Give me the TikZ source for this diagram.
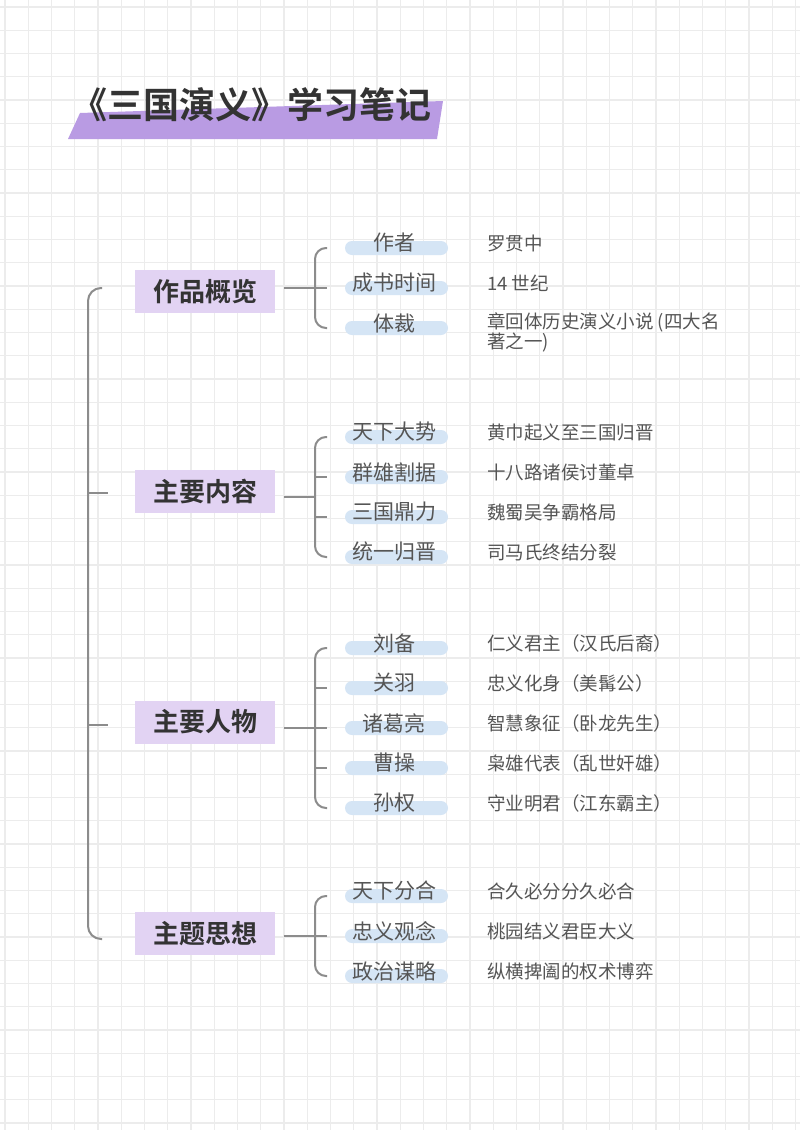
\documentclass[tikz,border=0pt]{standalone}
\usepackage{fontspec}
\setmainfont{Noto Sans CJK SC}[BoldFont={Noto Sans CJK SC Bold}]
\definecolor{gridc}{HTML}{ECECEC}
\definecolor{barpurple}{HTML}{B99BE3}
\definecolor{catfill}{HTML}{E2D3F3}
\definecolor{pillblue}{HTML}{D5E5F5}
\definecolor{linec}{HTML}{8C8C8C}
\definecolor{titlec}{HTML}{333333}
\definecolor{textc}{HTML}{555555}
\newcommand\mysub[4]{%
  \node[pill] (#1) at (396.5,#2) {};
  \node[subtext] (#1l) at (394,#2-5) {#3};
  \node[detail] (#1d) at (487,#2-5) {#4};
}
\begin{document}
\begin{tikzpicture}[x=1pt,y=-1pt,
  gridline/.style={draw=gridc,line width=1.3pt},
  conn/.style={draw=linec,line width=2pt},
  cat/.style={fill=catfill,minimum width=140pt,minimum height=43pt,inner sep=0pt,
    text=titlec,font=\bfseries\fontsize{26}{30}\selectfont},
  pill/.style={fill=pillblue,rounded corners=7pt,minimum width=103pt,minimum height=14pt,inner sep=0pt},
  subtext/.style={inner sep=0pt,text=textc,font=\fontsize{21}{25}\selectfont},
  detail/.style={inner sep=0pt,anchor=west,text=textc,font=\fontsize{18.5}{20}\selectfont},
  titletext/.style={inner sep=0pt,text=titlec,font=\bfseries\fontsize{36}{40}\selectfont}
]
\useasboundingbox (0,0) rectangle (800,1130);
\fill[white] (0,0) rectangle (800,1130);
% grid
\foreach \i in {0,...,34} \draw[gridline] (5+23.25*\i,0) -- (5+23.25*\i,1130);
\foreach \j in {0,...,48} \draw[gridline] (0,7+23.25*\j) -- (800,7+23.25*\j);

% title
\fill[barpurple] (68,139) -- (80,113) -- (443,101) -- (437,139) -- cycle;
\node[titletext] (title) at (251,105) {《三国演义》学习笔记};

% categories
\node[cat] (c1) at (205,291.5) {作品概览};
\node[cat] (c2) at (205,491) {主要内容};
\node[cat] (c3) at (205,722) {主要人物};
\node[cat] (c4) at (205,933.5) {主题思想};

% main bracket
\coordinate (mtop) at (102,288);
\coordinate (mbot) at (102,939);
\coordinate (mc2) at (108,493);
\coordinate (mc3) at (108,725);
\coordinate (mv2) at (88,493);
\coordinate (mv3) at (88,725);
\draw[conn,rounded corners=13pt] (mtop) -- (88,288) -- (88,939) -- (mbot);
\draw[conn] (mv2) -- (mc2);
\draw[conn] (mv3) -- (mc3);

% group 1
\mysub{a1}{248}{作者}{罗贯中}
\mysub{a2}{288}{成书时间}{14 世纪}
\node[pill] (a3) at (396.5,328) {};
\node[subtext] (a3l) at (394,323) {体裁};
\node[detail,align=left] (a3d) at (487,332) {章回体历史演义小说 (四大名\\著之一)};

% group 2
\mysub{b1}{437}{天下大势}{黄巾起义至三国归晋}
\mysub{b2}{477}{群雄割据}{十八路诸侯讨董卓}
\mysub{b3}{517}{三国鼎力}{魏蜀吴争霸格局}
\mysub{b4}{557}{统一归晋}{司马氏终结分裂}

% group 3
\mysub{d1}{648}{刘备}{仁义君主（汉氏后裔）}
\mysub{d2}{688}{关羽}{忠义化身（美髯公）}
\mysub{d3}{728}{诸葛亮}{智慧象征（卧龙先生）}
\mysub{d4}{768}{曹操}{枭雄代表（乱世奸雄）}
\mysub{d5}{808}{孙权}{守业明君（江东霸主）}

% group 4
\mysub{e1}{896}{天下分合}{合久必分分久必合}
\mysub{e2}{936}{忠义观念}{桃园结义君臣大义}
\mysub{e3}{976}{政治谋略}{纵横捭阖的权术博弈}

% sub brackets
\coordinate (g1t) at (327,248); \coordinate (g1b) at (327,328);
\coordinate (g1s) at (284,288); \coordinate (g1e) at (327,288);
\draw[conn,rounded corners=11pt] (g1t) -- (315,248) -- (315,328) -- (g1b);
\draw[conn] (g1s) -- (g1e);

\coordinate (g2t) at (327,437); \coordinate (g2b) at (327,557);
\coordinate (g2s) at (284,497); \coordinate (g2e) at (315,497);
\coordinate (g2m1) at (327,477); \coordinate (g2m2) at (327,517);
\draw[conn,rounded corners=11pt] (g2t) -- (315,437) -- (315,557) -- (g2b);
\draw[conn] (g2s) -- (g2e);
\draw[conn] (315,477) -- (g2m1);
\draw[conn] (315,517) -- (g2m2);

\coordinate (g3t) at (327,648); \coordinate (g3b) at (327,808);
\coordinate (g3s) at (284,728); \coordinate (g3e) at (327,728);
\coordinate (g3m1) at (327,688); \coordinate (g3m2) at (327,768);
\draw[conn,rounded corners=11pt] (g3t) -- (315,648) -- (315,808) -- (g3b);
\draw[conn] (g3s) -- (g3e);
\draw[conn] (315,688) -- (g3m1);
\draw[conn] (315,768) -- (g3m2);

\coordinate (g4t) at (327,896); \coordinate (g4b) at (327,976);
\coordinate (g4s) at (284,936); \coordinate (g4e) at (327,936);
\draw[conn,rounded corners=11pt] (g4t) -- (315,896) -- (315,976) -- (g4b);
\draw[conn] (g4s) -- (g4e);
\end{tikzpicture}
\end{document}
